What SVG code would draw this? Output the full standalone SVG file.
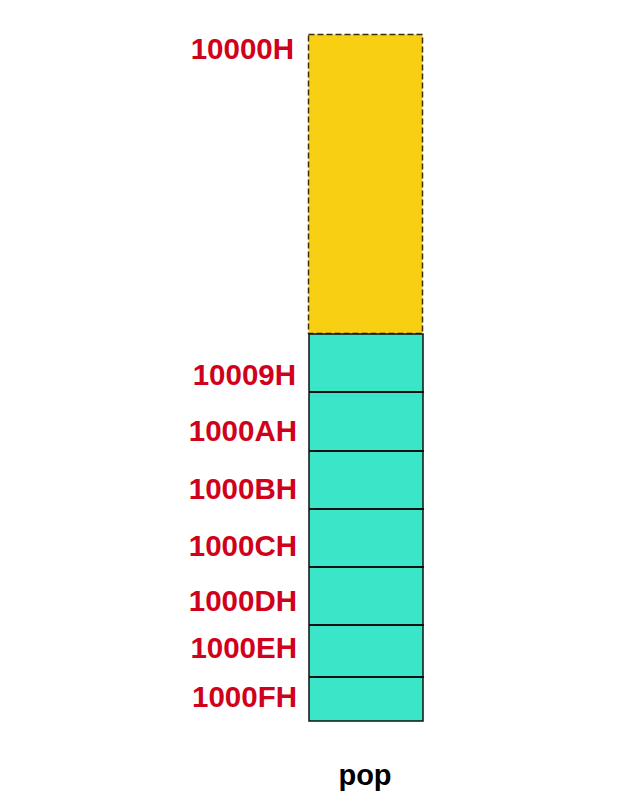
<svg xmlns="http://www.w3.org/2000/svg" width="640" height="809" viewBox="0 0 640 809">
<style>
.lbl{font-family:"Liberation Sans",Arial,sans-serif;font-weight:bold;font-size:29.5px;fill:#d0021b;text-anchor:end}
.cell{fill:#3be6c8;stroke:#111;stroke-width:1.5}
.sep{stroke:#111;stroke-width:2}
</style>
<rect width="640" height="809" fill="#fff"/>
<g id="free">
<rect x="308.5" y="34.5" width="114" height="299" fill="#f9cf14" stroke="#3a2e12" stroke-width="1.5" stroke-dasharray="6,3"/>
</g>
<g id="stack">
<rect class="cell" x="309" y="334" width="114" height="387"/>
</g>
<g id="connectors">
<line class="sep" x1="309" y1="392" x2="424" y2="392"/>
<line class="sep" x1="309" y1="451" x2="424" y2="451"/>
<line class="sep" x1="309" y1="509" x2="424" y2="509"/>
<line class="sep" x1="309" y1="567" x2="424" y2="567"/>
<line class="sep" x1="309" y1="625" x2="424" y2="625"/>
<line class="sep" x1="309" y1="677" x2="424" y2="677"/>
</g>
<g id="labels">
<text class="lbl" x="294" y="59">10000H</text>
<text class="lbl" x="296" y="385">10009H</text>
<text class="lbl" x="297" y="441">1000AH</text>
<text class="lbl" x="297" y="499">1000BH</text>
<text class="lbl" x="297" y="556">1000CH</text>
<text class="lbl" x="297" y="611">1000DH</text>
<text class="lbl" x="297" y="658">1000EH</text>
<text class="lbl" x="297" y="707">1000FH</text>
</g>
<g id="caption">
<text x="365" y="785" font-family="'Liberation Sans',Arial,sans-serif" font-weight="bold" font-size="29" text-anchor="middle" fill="#000">pop</text>
</g>
</svg>
